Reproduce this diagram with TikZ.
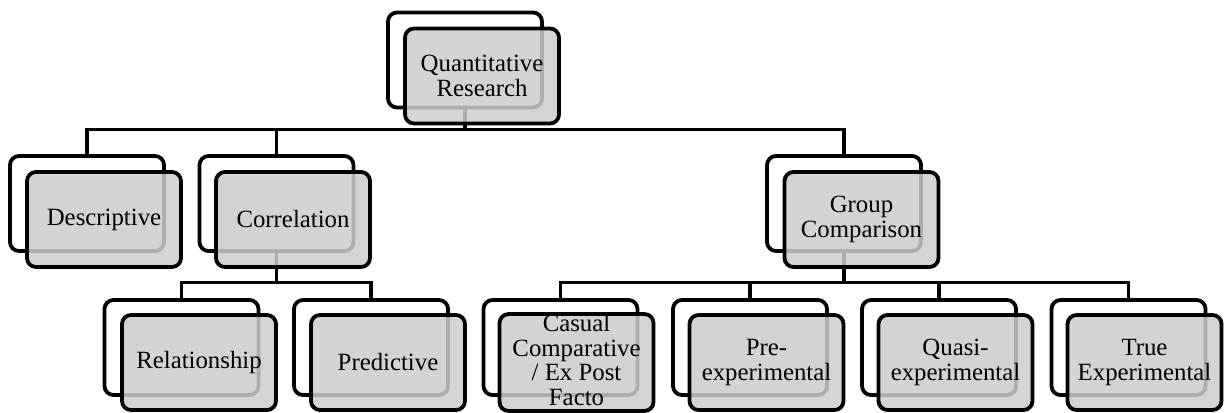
\documentclass[tikz,border=0pt]{standalone}
\usepackage{fontspec}
\setmainfont{Liberation Serif}
\usetikzlibrary{backgrounds}
\begin{document}
\begin{tikzpicture}[x=1pt,y=-1pt,
  backbox/.style={draw=black, line width=3.8pt, rounded corners=9pt, fill=white,
    minimum width=154pt, minimum height=95pt, inner sep=0pt, outer sep=0pt},
  frontbox/.style={backbox, fill=black!20, fill opacity=0.85, text opacity=1,
    align=center, font=\fontsize{24.8}{25.5}\selectfont},
  link/.style={draw=black, line width=3.6pt}]
\useasboundingbox (0,0) rectangle (1225,412);

% back cards
\node[backbox] (qrb)   at (465,60)     {};
\node[backbox] (descb) at (87,203.5)   {};
\node[backbox] (corb)  at (276.5,203.5) {};
\node[backbox] (grpb)  at (844,203.5)  {};
\node[backbox] (relb)  at (181.5,347.5) {};
\node[backbox] (predb) at (371,347.5)  {};
\node[backbox] (casb)  at (560.5,347.5) {};
\node[backbox] (preb)  at (750,347.5)  {};
\node[backbox] (quab)  at (939,347.5)  {};
\node[backbox] (trueb) at (1128.5,347.5) {};

% front cards with labels
\node[frontbox] (qrf)   at (482,76)      {Quantitative\\Research};
\node[frontbox] (descf) at (104,219.5)   {Descriptive};
\node[frontbox] (corf)  at (293,219.5)   {Correlation};
\node[frontbox] (grpf)  at (861.5,219.5) {Group\\Comparison};
\node[frontbox] (relf)  at (199,362.5)   {Relationship};
\node[frontbox] (predf) at (388,362.5)   {Predictive};
\node[frontbox, font=\fontsize{24.8}{24.8}\selectfont] (casf) at (576.5,362.5)
  {\raisebox{0pt}{}Casual\\Comparative\\/ Ex Post\\Facto\vspace{5pt}};
\node[frontbox] (pref)  at (766.5,362.5) {Pre-\\experimental};
\node[frontbox] (quaf)  at (955.5,362.5) {Quasi-\\experimental};
\node[frontbox] (truef) at (1144.5,362.5) {True\\Experimental};

% tree connectors
\begin{scope}[on background layer]
  \draw[link] (qrb.south) -- ++(0,22) -| (descb.north);
  \draw[link] (qrb.south) -- ++(0,22) -| (corb.north);
  \draw[link] (qrb.south) -- ++(0,22) -| (grpb.north);
  \draw[link] (corb.south) -- ++(0,31.5) -| (relb.north);
  \draw[link] (corb.south) -- ++(0,31.5) -| (predb.north);
  \draw[link] (grpb.south) -- ++(0,31.5) -| (casb.north);
  \draw[link] (grpb.south) -- ++(0,31.5) -| (preb.north);
  \draw[link] (grpb.south) -- ++(0,31.5) -| (quab.north);
  \draw[link] (grpb.south) -- ++(0,31.5) -| (trueb.north);
\end{scope}
\end{tikzpicture}
\end{document}
